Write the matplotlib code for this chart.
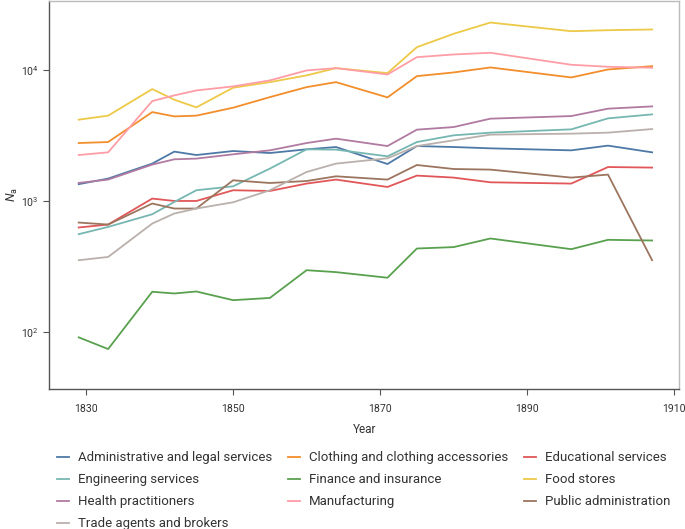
import numpy as np
import matplotlib
matplotlib.use("Agg")
import matplotlib.pyplot as plt
from matplotlib.ticker import LogLocator, NullLocator, LogFormatterMathtext

plt.rcParams["font.family"] = ["Roboto", "DejaVu Sans"]
plt.rcParams["mathtext.fontset"] = "custom"
plt.rcParams["mathtext.rm"] = "Roboto"
plt.rcParams["mathtext.it"] = "Roboto:italic"

years = [1829, 1833, 1839, 1842, 1845, 1850, 1855, 1860, 1864,
         1871, 1875, 1880, 1885, 1896, 1901, 1907]

admin = [1350, 1489, 1937, 2391, 2252, 2416, 2333, 2489, 2592,
         1923, 2637, 2592, 2533, 2445, 2656, 2361]
clothing = [2780, 2829, 4787, 4439, 4496, 5170, 6226, 7422, 8100,
            6194, 8999, 9605, 10486, 8796, 10120, 10720]
educational = [631, 664, 1048, 1005, 1005, 1213, 1198, 1364, 1463,
               1285, 1569, 1515, 1395, 1364, 1824, 1806]
engineering = [561, 637, 796, 988, 1213, 1300, 1774, 2489, 2476,
               2201, 2829, 3183, 3336, 3535, 4288, 4598]
finance = [91.6, 74.6, 204, 198, 205, 176, 183, 298, 288,
           261, 436, 447, 520, 431, 508, 502]
food = [4190, 4497, 7170, 5950, 5200, 7345, 8100, 9120, 10360,
        9490, 14960, 18930, 23070, 19820, 20170, 20420]
health = [1380, 1463, 1904, 2089, 2115, 2280, 2445, 2780, 3002,
          2637, 3516, 3680, 4265, 4465, 5083, 5290]
manufacturing = [2252, 2361, 5806, 6416, 7000, 7515, 8350, 9950, 10360,
                 9270, 12560, 13170, 13570, 10990, 10610, 10430]
public_admin = [688, 664, 961, 880, 880, 1445, 1378, 1427, 1550,
                1463, 1890, 1762, 1743, 1515, 1597, 355]
trade = [355, 376, 676, 806, 880, 982, 1213, 1672, 1937,
         2126, 2637, 2915, 3221, 3277, 3336, 3553]

series = [
    ("Administrative and legal services", admin, "#4e79a7"),
    ("Clothing and clothing accessories", clothing, "#f28e2b"),
    ("Educational services", educational, "#e15759"),
    ("Engineering services", engineering, "#76b7b2"),
    ("Finance and insurance", finance, "#59a14f"),
    ("Food stores", food, "#edc948"),
    ("Health practitioners", health, "#b07aa1"),
    ("Manufacturing", manufacturing, "#ff9da7"),
    ("Public administration", public_admin, "#9c755f"),
    ("Trade agents and brokers", trade, "#bab0ac"),
]

fig = plt.figure(figsize=(6.85, 5.29), dpi=100)
ax = fig.add_axes([0.072, 0.2647, 0.9197, 0.7343])

lines = {}
for name, vals, col in series:
    (ln,) = ax.plot(years, vals, color=col, lw=1.3, label=name)
    lines[name] = ln

ax.set_yscale("log")
ax.set_xlim(1825, 1910.7)
ax.set_ylim(37, 33960)
ax.set_xticks([1830, 1850, 1870, 1890, 1910])
ax.yaxis.set_major_locator(LogLocator(base=10, numticks=10))
ax.yaxis.set_major_formatter(LogFormatterMathtext())
ax.yaxis.set_minor_locator(NullLocator())

for s in ["left", "bottom"]:
    ax.spines[s].set_color("#555555")
    ax.spines[s].set_linewidth(1.0)
for s in ["top", "right"]:
    ax.spines[s].set_color("#bbbbbb")
    ax.spines[s].set_linewidth(1.0)

ax.tick_params(axis="both", labelsize=7.6, color="#555555", labelcolor="#333333",
               length=4, width=0.8)
ax.tick_params(axis="x", pad=7)
ax.set_xlabel("Year", fontsize=8.5, color="#333333", labelpad=6)
ax.set_ylabel("$N_\\mathrm{a}$", fontsize=9, color="#333333", labelpad=1)

order = ["Administrative and legal services", "Engineering services",
         "Health practitioners", "Trade agents and brokers",
         "Clothing and clothing accessories", "Finance and insurance",
         "Manufacturing",
         "Educational services", "Food stores", "Public administration"]
fig.legend([lines[n] for n in order], order, ncol=3, loc="upper left",
           bbox_to_anchor=(0.083, 0.147), frameon=False, fontsize=9.5,
           handlelength=0.9, handletextpad=0.7, columnspacing=1.2,
           labelspacing=0.68, borderaxespad=0, borderpad=0,
           labelcolor="#333333")

fig.savefig("out.png", dpi=100)
